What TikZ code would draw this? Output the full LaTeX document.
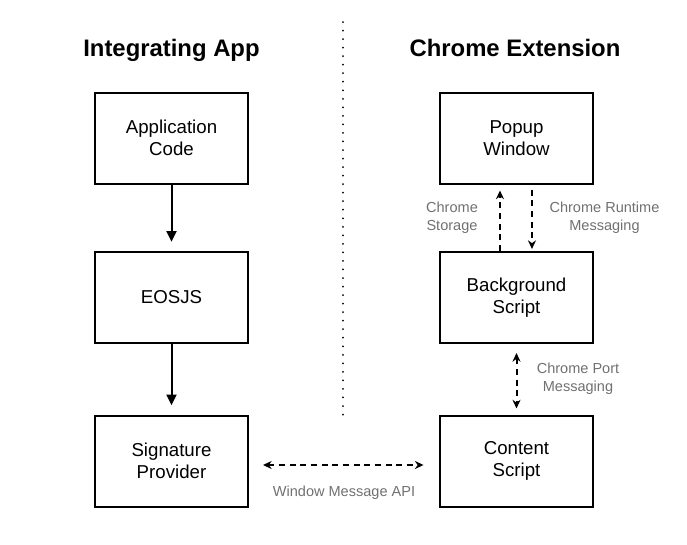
\documentclass[tikz,border=0pt]{standalone}
\usepackage{fontspec}
\setmainfont{Liberation Sans}
\usetikzlibrary{arrows.meta}

\begin{document}
\begin{tikzpicture}[x=0.75pt,y=0.75pt,yscale=-1,xscale=1,
  box/.style={draw,line width=1.5pt,minimum width=114.75pt,minimum height=68.25pt,align=center,font=\fontsize{14}{16.2}\selectfont},
  heading/.style={anchor=base,font=\fontsize{17.9}{21}\selectfont\bfseries},
  note/.style={align=center,text={rgb,255:red,112;green,112;blue,112},font=\fontsize{10.9}{13.3}\selectfont},
  flow/.style={line width=1.5pt,-{Triangle[length=8pt,width=7.5pt]},shorten >=7pt},
  msg/.style={line width=1.5pt,dash pattern={on 4.5pt off 3.5pt}}]
\useasboundingbox (0,0) rectangle (687,544);

% Text Node
\node[heading] (apptitle) at (171.5,56.5) {Integrating App};
% Text Node
\node[heading] (exttitle) at (515,56.5) {Chrome Extension};

%Straight Lines (separator)
\coordinate (septop) at (343,22);
\coordinate (sepbot) at (343,418);
\draw [line width=1.5pt,line cap=round,dash pattern={on 0pt off 6.4pt}] (septop) -- (sepbot);

%Shape: Rectangle
\node[box] (appcode) at (171.5,138) {Application\\Code};
%Shape: Rectangle
\node[box] (eosjs) at (171.5,297.5) {EOSJS};
%Shape: Rectangle
\node[box] (sigprov) at (171.5,461) {Signature\\Provider};
%Shape: Rectangle
\node[box] (popup) at (516.5,138) {Popup\\Window};
%Shape: Rectangle
\node[box] (bgscript) at (516.5,297.5) {Background\\Script};
%Shape: Rectangle
\node[box] (contentscript) at (516.5,461) {Content\\Script};

%Straight Lines
\draw [flow] (appcode) -- (eosjs);
\draw [flow] (eosjs) -- (sigprov);

%Straight Lines
\draw [msg,-{Stealth[length=6.5pt,width=6pt]},shorten >=4.5pt] ([xshift=-12.4pt]bgscript.north) -- ([xshift=-12.4pt]popup.south);
\draw [msg,-{Stealth[length=6.5pt,width=6pt]},shorten <=3.75pt,shorten >=1.5pt] ([xshift=11.6pt]popup.south) -- ([xshift=11.6pt]bgscript.north);
\draw [msg,{Stealth[length=6.5pt,width=6pt]}-{Stealth[length=6.5pt,width=6pt]},shorten <=6.75pt,shorten >=4.5pt] (bgscript) -- (contentscript);
\draw [msg,{Stealth[length=6.5pt,width=6pt]}-{Stealth[length=6.5pt,width=6pt]},shorten <=10.5pt,shorten >=11.6pt] ([yshift=3pt]sigprov.east) -- ([yshift=3pt]contentscript.west);

% Text Node
\node[note] (storagelbl) at (452,218) {Chrome\\Storage};
% Text Node
\node[note] (runtimelbl) at (604.5,218) {Chrome Runtime\\Messaging};
% Text Node
\node[note] (portlbl) at (578,379) {Chrome Port\\Messaging};
% Text Node
\node[note] (windowlbl) at (344,493) {Window Message API};

\end{tikzpicture}
\end{document}
